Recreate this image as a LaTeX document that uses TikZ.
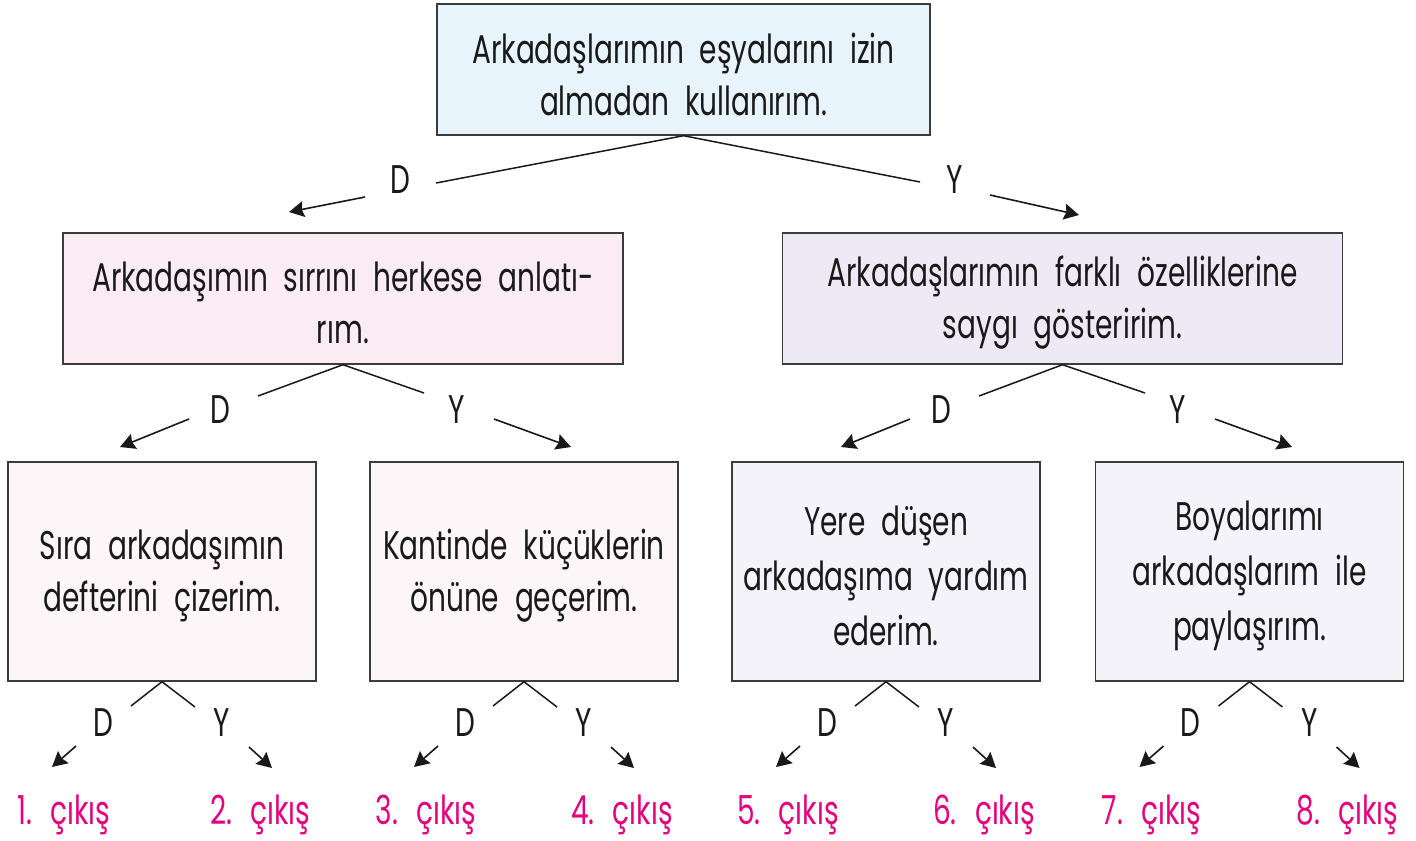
\documentclass[tikz,border=0pt]{standalone}
\usepackage{fontspec}
\setmainfont{Poppins}[FakeStretch=0.7, WordSpace=2.1]
\usetikzlibrary{arrows.meta}
\definecolor{cTop}{RGB}{232,244,252}
\definecolor{cPink}{RGB}{251,236,243}
\definecolor{cLav}{RGB}{237,234,246}
\definecolor{cPinkL}{RGB}{253,246,248}
\definecolor{cLavL}{RGB}{245,243,250}
\definecolor{cMag}{RGB}{229,0,125}
\definecolor{cInk}{RGB}{25,25,25}
\begin{document}
\begin{tikzpicture}[x=0.5pt,y=-0.5pt,
  every node/.style={font=\fontsize{20pt}{26pt}\selectfont, text=cInk},
  box/.style={draw=cInk!85, line width=0.7pt, inner sep=0pt},
  txt/.style={align=center, inner sep=0pt},
  txt3/.style={txt, font=\fontsize{20pt}{27.5pt}\selectfont},
  big/.style={box, minimum width=280pt, minimum height=65.5pt},
  small/.style={box, minimum width=154pt, minimum height=109.5pt},
  lbl/.style={inner sep=0pt},
  exitlbl/.style={inner sep=0pt, text=cMag},
  link/.style={draw=cInk, line width=0.75pt},
  arr/.style={draw=cInk, line width=0.8pt, -{Stealth[length=7.5pt,width=8pt,inset=1pt]}}
]
\useasboundingbox (0,0) rectangle (1416,840);

% top
\node[box, fill=cTop, minimum width=246.5pt, minimum height=65.5pt] (top) at (683.5,69.5) {};
\node[txt] (topT) at ([yshift=-2.3pt]top.center) {Arkadaşlarımın eşyalarını izin\\almadan kullanırım.};

% level 2
\node[big, fill=cPink] (L) at (343,298.5) {};
\node[txt] (LT) at ([yshift=-2.3pt]L.center) {Arkadaşımın sırrını herkese anlatı-\\rım.};
\node[big, fill=cLav] (R) at (1062.5,298.5) {};
\node[txt] (RT) at ([yshift=-2.3pt]R.center) {Arkadaşlarımın farklı özelliklerine\\saygı gösteririm.};

% level 1 connectors
\node[lbl] (tD) at (400,180) {D};
\node[lbl] (tY) at (955,180) {Y};
\coordinate (tDa) at (436,183);
\coordinate (tYa) at (920,182);
\draw[link] (top.south) -- (tDa);
\draw[link] (top.south) -- (tYa);
\coordinate (tD1) at (365,197); \coordinate (tD2) at (289,212);
\coordinate (tY1) at (990,195); \coordinate (tY2) at (1079,215);
\draw[arr] (tD1) -- (tD2);
\draw[arr] (tY1) -- (tY2);

% level 3 boxes
\node[small, fill=cPinkL] (A) at (162,571.5) {};
\node[txt] (AT) at ([yshift=-2.3pt]A.center) {Sıra arkadaşımın\\defterini çizerim.};
\node[small, fill=cPinkL] (B) at (524,571.5) {};
\node[txt] (BT) at ([yshift=-2.3pt]B.center) {Kantinde küçüklerin\\önüne geçerim.};
\node[small, fill=cLavL] (C) at (886,571.5) {};
\node[txt3] (CT) at ([yshift=-2.3pt]C.center) {Yere düşen\\arkadaşıma yardım\\ederim.};
\node[small, fill=cLavL] (E) at (1249.5,571.5) {};
\node[txt3] (ET) at ([yshift=-2.3pt]E.center) {Boyalarımı\\arkadaşlarım ile\\paylaşırım.};

% level 2 connectors
\foreach \n/\cx in {L/343, R/1064} {
  \node[lbl] (\n D) at (\cx-123,410) {D};
  \node[lbl] (\n Y) at (\cx+114,410) {Y};
  \coordinate (\n a) at (\cx-85,396);
  \coordinate (\n b) at (\cx+81,393);
  \draw[link] (\n.south) -- (\n a);
  \draw[link] (\n.south) -- (\n b);
  \coordinate (\n d1) at (\cx-154,419); \coordinate (\n d2) at (\cx-223,447);
  \coordinate (\n y1) at (\cx+151,419); \coordinate (\n y2) at (\cx+228,447);
  \draw[arr] (\n d1) -- (\n d2);
  \draw[arr] (\n y1) -- (\n y2);
}

% level 3 connectors and outputs
\foreach \n/\cx/\i/\j in {A/162/1/2, B/524/3/4, C/886/5/6, E/1249.5/7/8} {
  \node[lbl] (\n D) at (\cx-59,723) {D};
  \node[lbl] (\n Y) at (\cx+60,723) {Y};
  \coordinate (\n a) at (\cx-31,706);
  \coordinate (\n b) at (\cx+33,707);
  \draw[link] (\n.south) -- (\n a);
  \draw[link] (\n.south) -- (\n b);
  \coordinate (\n d1) at (\cx-86,746); \coordinate (\n d2) at (\cx-110,767);
  \coordinate (\n y1) at (\cx+87,747); \coordinate (\n y2) at (\cx+110,768);
  \draw[arr] (\n d1) -- (\n d2);
  \draw[arr] (\n y1) -- (\n y2);
  \node[exitlbl] (\n o1) at (\cx-98,815) {\i. çıkış};
  \node[exitlbl] (\n o2) at (\cx+98,815) {\j. çıkış};
}
\end{tikzpicture}
\end{document}
